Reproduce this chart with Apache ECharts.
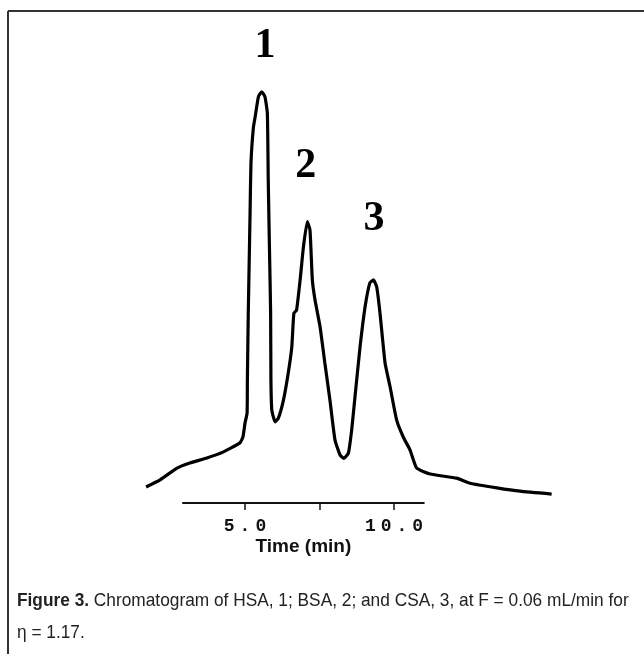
<!DOCTYPE html>
<html>
<head>
<meta charset="utf-8">
<script src="https://cdn.jsdelivr.net/npm/echarts@6/dist/echarts.min.js"></script>
<style>
  html, body { margin: 0; padding: 0; background: #fff; }
  #chart { width: 644px; height: 654px; }
</style>
</head>
<body>
<div id="chart"></div>
<script>
// chromatogram trace (time in min, detector response in arbitrary units)
const times = [1.68, 2.15, 2.72, 3.15, 3.72, 4.26, 4.83, 4.93, 5.00, 5.07, 5.08, 5.11, 5.17, 5.20, 5.28, 5.34, 5.45, 5.56, 5.67, 5.75,
  5.78, 5.82, 5.86, 5.87, 5.90, 6.01, 6.12, 6.29, 6.45, 6.57, 6.64, 6.73, 6.85, 6.96, 7.09, 7.18, 7.26, 7.35, 7.52, 7.68,
  7.85, 8.02, 8.19, 8.32, 8.47, 8.58, 8.69, 8.86, 9.03, 9.19, 9.31, 9.42, 9.53, 9.70, 9.87, 10.09, 10.31, 10.54, 10.76, 11.21,
  12.10, 12.55, 13.45, 14.23, 15.29];
const response = [3.1, 4.8, 7.6, 8.8, 10.0, 11.4, 13.6, 15.0, 18.3, 20.7, 28.6, 44.5, 68.3, 80.2, 88.6, 91.2, 96.0, 97.2, 96.0, 92.1,
  76.2, 60.2, 44.5, 28.6, 21.4, 18.6, 19.5, 23.8, 30.2, 36.4, 44.5, 45.2, 52.4, 60.2, 66.3, 64.3, 52.4, 47.6, 41.2, 32.6,
  23.8, 14.3, 10.7, 9.9, 11.2, 16.7, 24.5, 36.4, 46.0, 51.7, 52.4, 50.7, 44.5, 32.6, 26.9, 19.0, 15.0, 11.9, 7.6, 6.2,
  5.2, 4.0, 2.9, 2.1, 1.4];

// peak numbers and where they sit
const peakNames = ['1', '2', '3'];
const peakTimes = [5.67, 7.04, 9.33];
const peakLevels = [108.0, 79.6, 66.8];

const tickValues = [5, 7.5, 10];
const labelValues = [5, 10];

const pxPerMin = 29.8;
const captionFont = '19px "Liberation Sans", sans-serif';

const chart = echarts.init(document.getElementById('chart'));

chart.setOption({
  backgroundColor: '#fff',
  animation: false,
  grid: [
    { left: 245 - 3.5 * pxPerMin, width: 14 * pxPerMin, top: 80, height: 420 },
    { left: 245 - 2.08 * pxPerMin, width: 8.08 * pxPerMin, top: 400, height: 103 }
  ],
  xAxis: [
    { type: 'value', gridIndex: 0, min: 1.5, max: 15.5, show: false },
    {
      type: 'value', gridIndex: 1, min: 2.92, max: 11.0,
      axisLine: { lineStyle: { color: '#111', width: 2 } },
      axisTick: { customValues: tickValues, length: 7, lineStyle: { color: '#111', width: 1.5 } },
      axisLabel: {
        customValues: labelValues, margin: 14,
        formatter: v => v.toFixed(1).split('').map(c => '{c|' + c + '}').join(''),
        rich: {
          c: { fontFamily: 'Liberation Mono', fontWeight: 'bold', fontSize: 18, color: '#111', padding: [0, 2.5] }
        }
      },
      splitLine: { show: false },
      name: 'Time (min)', nameLocation: 'middle', nameGap: 34,
      nameTextStyle: { fontFamily: 'Liberation Sans', fontWeight: 'bold', fontSize: 19, color: '#111' }
    }
  ],
  yAxis: [
    { type: 'value', gridIndex: 0, min: 0, max: 100, show: false },
    { type: 'value', gridIndex: 1, min: 0, max: 1, show: false }
  ],
  series: [
    {
      type: 'line', xAxisIndex: 0, yAxisIndex: 0,
      data: times.map((t, i) => [t, response[i]]),
      showSymbol: false, smooth: 0.15,
      lineStyle: { color: '#000', width: 3.2 }
    },
    {
      type: 'scatter', xAxisIndex: 0, yAxisIndex: 0, clip: false,
      symbolSize: 0, itemStyle: { opacity: 1 },
      data: peakNames.map((n, i) => ({ name: n, value: [peakTimes[i], peakLevels[i]] })),
      label: {
        show: true, position: 'inside', formatter: p => p.name, opacity: 1,
        fontFamily: 'Liberation Serif', fontWeight: 'bold', fontSize: 42, color: '#000'
      }
    }
  ],
  graphic: [
    { type: 'line', shape: { x1: 8, y1: 11, x2: 644, y2: 11 }, style: { stroke: '#333', lineWidth: 2 } },
    { type: 'line', shape: { x1: 8, y1: 11, x2: 8, y2: 654 }, style: { stroke: '#333', lineWidth: 2 } },
    {
      type: 'text', x: 17, y: 591, scaleX: 0.91,
      style: {
        text: '{b|Figure 3.} Chromatogram of HSA, 1; BSA, 2; and CSA, 3, at F = 0.06 mL/min for',
        font: captionFont, fill: '#222',
        rich: { b: { fontFamily: 'Liberation Sans', fontWeight: 'bold', fontSize: 19, fill: '#222' } }
      }
    },
    {
      type: 'text', x: 17, y: 623, scaleX: 0.91,
      style: { text: 'η = 1.17.', font: captionFont, fill: '#222' }
    }
  ]
});
</script>
</body>
</html>
